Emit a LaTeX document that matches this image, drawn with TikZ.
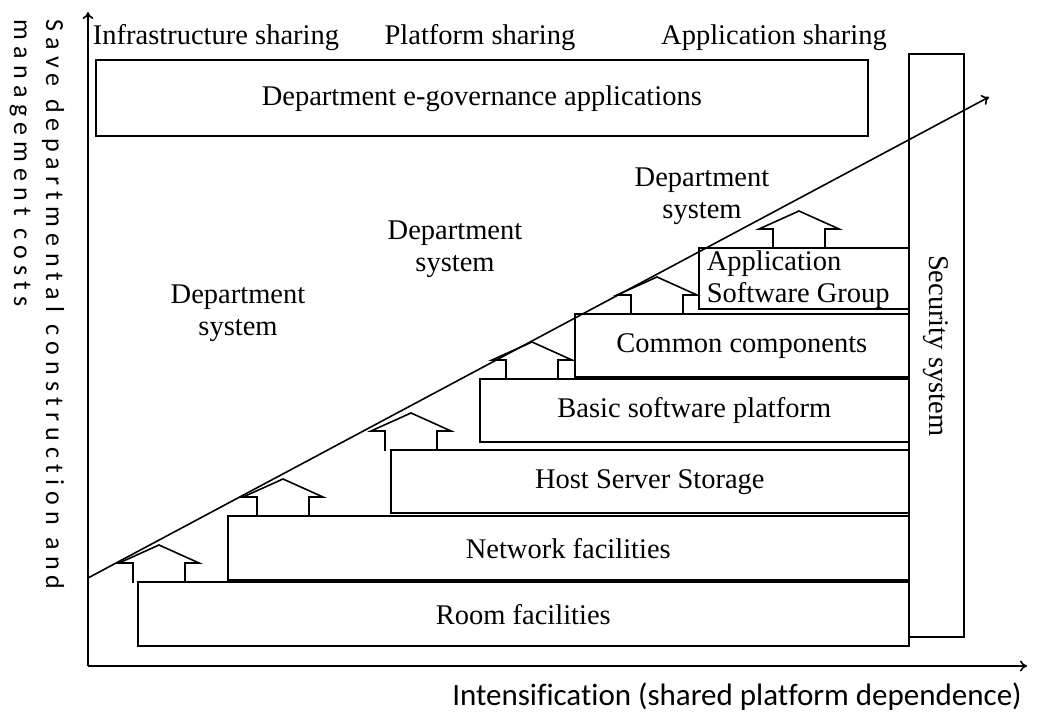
\documentclass[tikz,border=0pt]{standalone}
\usepackage{fontspec}
\usetikzlibrary{arrows.meta}
\setmainfont{Liberation Serif}
\newfontfamily\axisfont[Ligatures=CommonOff]{Carlito}
\newfontfamily\axisspaced[LetterSpace=24,Ligatures=CommonOff]{Carlito}

\begin{document}
\begin{tikzpicture}[x=1pt,y=1pt,line width=1.6pt,>={To[length=7pt,width=11pt]},
  layer/.style={draw,anchor=south west,inner sep=0pt,font=\fontsize{28.5}{32}\selectfont},
  lab/.style={align=center,inner sep=0pt,font=\fontsize{28.5}{32}\selectfont},
  axislab/.style={inner sep=0pt,font=\axisfont\fontsize{31}{34}\selectfont}]
  \useasboundingbox (0,0) rectangle (1049,720);
  % axes and the rising diagonal
  \coordinate (O) at (88,54); \coordinate (ytop) at (88,708); \coordinate (xend) at (1027,54);
  \coordinate (d0) at (88,142); \coordinate (d1) at (989,623);
  \draw[->] (O) -- (ytop); \draw[->] (O) -- (xend); \draw[->] (d0) -- (d1);
  % stacked layers
  \foreach \nm/\x/\y/\w/\h/\txt in {room/137/73/771/64/Room facilities,net/227/139/681/64/Network facilities,
    host/390/206/518/63/Host Server Storage,basic/479/277/429/63/Basic software platform,common/574/342/334/63/Common components}
    {\node[layer,minimum width=\w,minimum height=\h] (\nm) at (\x,\y) {\txt};}
  \node[layer,minimum width=210,minimum height=61] (appgrp) at (698,410) {};
  \node[lab,align=left,anchor=west] (appgrplab) at (706,440) {Application\\Software Group};
  \node[layer,minimum width=772,minimum height=76] (egov) at (95,583) {Department e-governance applications};
  \node[layer,minimum width=55,minimum height=583] (sec) at (908,82) {};
  \node[lab,rotate=-90] (seclab) at (sec.center) {Security system};
  % hollow up arrows on the steps
  \foreach \cx/\b in {159/137,283/203,411/269,532/340,657/405,799/471}
    \draw (\cx-26,\b) -- (\cx-26,\b+20) -- (\cx-40,\b+20) -- (\cx,\b+38) -- (\cx+40,\b+20) -- (\cx+26,\b+20) -- (\cx+26,\b);
  % labels
  \node[lab] (infra) at (216,682) {Infrastructure sharing};
  \node[lab] (plat) at (480,682) {Platform sharing};
  \node[lab] (appshare) at (774,682) {Application sharing};
  \foreach \nm/\x/\y in {sysa/238/407,sysb/455/471,sysc/702/524}
    \node[lab] (\nm) at (\x,\y) {Department\\system};
  \node[axislab] (xlab) at (737,23) {Intensification (shared platform dependence)};
  \node[axislab,font=\axisspaced\fontsize{26}{32}\selectfont,rotate=-90,anchor=north west,align=left] (ylab) at (65,701)
    {Save departmental construction and\\management costs};
\end{tikzpicture}
\end{document}
